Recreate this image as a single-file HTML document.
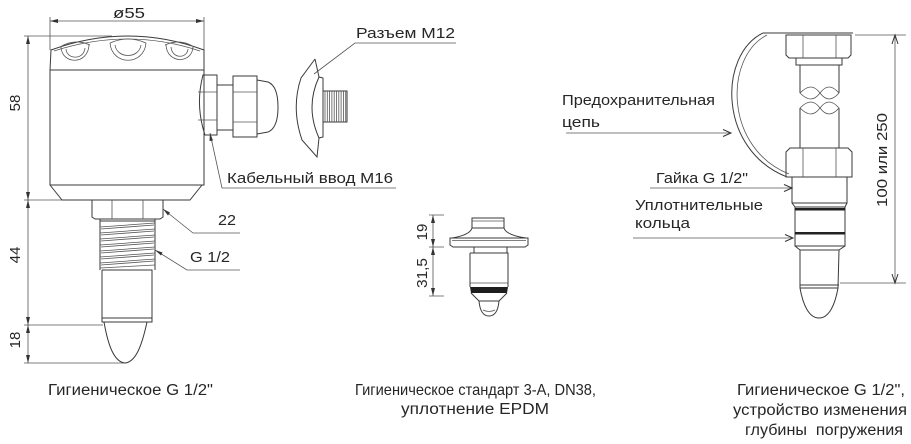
<!DOCTYPE html>
<html><head><meta charset="utf-8"><style>
html,body{margin:0;padding:0;background:#fff;}
svg{display:block;}
text{font-family:"Liberation Sans","DejaVu Sans",sans-serif;fill:#262626;}
.l{fill:none;stroke:#3a3a3a;stroke-width:1;}
.t{fill:none;stroke:#555;stroke-width:0.8;}
.a{fill:#333;stroke:none;}
.o{fill:none;stroke:#333;stroke-width:1;}
</style></head><body>
<svg width="911" height="444" viewBox="0 0 911 444" xmlns="http://www.w3.org/2000/svg">
<!-- ================= LEFT DRAWING ================= -->
<path class="t" d="M50,21 L204,21 M50,17 L50,50 M204,17 L204,50"/>
<path class="a" d="M50,21 L58,19 L58,23 Z M204,21 L196,19 L196,23 Z"/>
<text x="113" y="18" font-size="15" textLength="32" lengthAdjust="spacingAndGlyphs">ø55</text>
<path class="t" d="M28,36 L28,363 M24,36 L112,36 M24,200 L62,200 M24,325 L103,325 M24,363 L124,363"/>
<path class="a" d="M28,36 L26,44 L30,44 Z M28,200 L26,192 L30,192 Z M28,200 L26,208 L30,208 Z M28,325 L26,317 L30,317 Z M28,325 L26,333 L30,333 Z M28,363 L26,355 L30,355 Z"/>
<text transform="translate(20,103) rotate(-90)" font-size="15" text-anchor="middle">58</text>
<text transform="translate(20,255) rotate(-90)" font-size="15" text-anchor="middle">44</text>
<text transform="translate(20,340) rotate(-90)" font-size="15" text-anchor="middle">18</text>
<path class="l" d="M50,70 L51,50 Q128,22 204,50 L204,70"/>
<path class="t" d="M54,51 Q128,27 200,51"/>
<path class="l" d="M50,70 L204,70"/>
<path class="t" d="M61,47 C62,65 88,65 89,45 M66,49 C67,60 84,60 85,48 M60,47 Q75,38 90,45"/>
<path class="t" d="M110,43 C112,66 144,66 146,43 M115,45 C117,59 139,59 141,45 M110,43 Q128,35 146,43"/>
<path class="t" d="M166,45 C167,64 192,64 193,47 M171,47 C172,59 187,59 188,49 M165,45 Q180,38 194,47"/>
<path class="l" d="M50,70 L50,185 L204,185 L204,70"/>
<path class="l" d="M50,185 L62,200 L190,200 L202,185"/>
<path class="l" d="M92,200 L92,217 L95,219 L160,219 L163,217 L163,200"/>
<path class="t" d="M112,200 L112,219 M143,200 L143,219"/>
<path class="l" d="M100,219 L100,270 M155,219 L155,270 M100,221 L155,221"/>
<path class="t" d="M100,227 L155,223 M100,233 L155,229 M100,239 L155,235 M100,245 L155,241 M100,251 L155,247 M100,257 L155,253 M100,263 L155,259 M100,268 L155,265"/>
<path class="t" d="M101,229 L154,225 M101,235 L154,231 M101,241 L154,237 M101,247 L154,243 M101,253 L154,249 M101,259 L154,255 M101,265 L154,261"/>
<path class="l" d="M102,270 L102,322 L152,322 L152,270 L102,270 M102,318 L152,318"/>
<path class="l" d="M104,322 C108,345 114,362 125,363 C136,362 142,345 147,322"/>
<path class="l" d="M203,75 L217,75 L217,135 L205,135 Q195,105 203,75 Z"/>
<path class="t" d="M198,92 L217,92 M198,120 L217,120"/>
<path class="l" d="M217,85 L233,85 M217,130 L233,130"/>
<path class="l" d="M233,76 L257,76 L257,137 L233,137 Z"/>
<path class="t" d="M233,92 L257,92 M233,122 L257,122"/>
<path class="l" d="M257,80 L268,82 Q278,86 278,107 Q278,128 268,132 L257,134"/>
<path class="l" d="M315,59 L301,78 Q291,108 302,140 L317,157 L319,138 M315,59 L319,77"/>
<path class="l" d="M319,77 Q305,107 319,138 L323,137 L323,78 Z"/>
<path class="l" d="M323,91 L347,91 L347,122 L323,122"/>
<path class="t" d="M325,91 V122 M327.3,91 V122 M329.6,91 V122 M331.9,91 V122 M334.2,91 V122 M336.5,91 V122 M338.8,91 V122 M341.1,91 V122 M343.4,91 V122 M345.7,91 V122"/>
<path class="t" d="M314,74 L355,43 L456,43"/>
<text x="356" y="38" font-size="15" textLength="99" lengthAdjust="spacingAndGlyphs">Разъем М12</text>
<path class="t" d="M210,133 L222,188 L396,188"/>
<path class="a" d="M210,133 L209.5,141 L213,140.5 Z"/>
<text x="227" y="183" font-size="15" textLength="166" lengthAdjust="spacingAndGlyphs">Кабельный ввод М16</text>
<path class="t" d="M163,209 L193,233 L240,233"/>
<path class="a" d="M163,209 L168,215.5 L170,212.5 Z"/>
<text x="218" y="225" font-size="15" textLength="18" lengthAdjust="spacingAndGlyphs">22</text>
<path class="t" d="M155,250 L187,270 L240,270"/>
<path class="a" d="M155,250 L161,255.5 L162.5,252.5 Z"/>
<text x="190" y="262" font-size="15" textLength="40" lengthAdjust="spacingAndGlyphs">G 1/2</text>
<text x="48" y="395" font-size="15.5" textLength="165" lengthAdjust="spacingAndGlyphs">Гигиеническое G 1/2"</text>

<!-- ================= MIDDLE DRAWING ================= -->
<path class="t" d="M433,215 L433,296 M429,215 L444,215 M429,247 L444,247 M429,296 L444,296"/>
<path class="a" d="M433,215 L431,223 L435,223 Z M433,247 L431,239 L435,239 Z M433,247 L431,255 L435,255 Z M433,296 L431,288 L435,288 Z"/>
<text transform="translate(427,232) rotate(-90)" font-size="15" text-anchor="middle">19</text>
<text transform="translate(427,273) rotate(-90)" font-size="15" text-anchor="middle" textLength="30" lengthAdjust="spacingAndGlyphs">31,5</text>
<path class="l" d="M472,218 L504,218 L504,228 L472,228 Z"/>
<path class="t" d="M472,221 L504,221"/>
<path class="l" d="M472,228 Q470,235 452,238 M504,228 Q506,235 526,238"/>
<path class="l" d="M450,238 L528,238 L528,245 L525,247 L453,247 L450,245 Z"/>
<path class="t" d="M452,240.5 L526,240.5"/>
<path class="l" d="M474,247 L474,253 M507,247 L507,253"/>
<path class="l" d="M470,253 L508,253 L508,287 M470,253 L470,287"/>
<path class="t" d="M470,283 L508,283"/>
<path d="M470,287 L508,287 L507,293 L471,293 Z" fill="#1e1e1e"/>
<path class="l" d="M471,293 L479,301 L499,301 L507,293"/>
<path class="l" d="M479,301 C480,312 484,316 489,316 C494,316 498,312 499,301"/>
<path class="t" d="M483,310 Q489,313 495,310"/>
<text x="355" y="395" font-size="16" textLength="241" lengthAdjust="spacingAndGlyphs">Гигиеническое стандарт 3-А, DN38,</text>
<text x="401" y="414" font-size="15.5" textLength="148" lengthAdjust="spacingAndGlyphs">уплотнение EPDM</text>

<!-- ================= RIGHT DRAWING ================= -->
<path class="l" d="M763,33 C718,55 718,150 787,177"/>
<path class="t" d="M767,35 C724,57 724,148 789,174"/>
<path class="l" d="M763,33 L853,33"/>
<path class="l" d="M786,35 L851,35 L851,55 L848,58 L789,58 L786,55 Z"/>
<path class="t" d="M803,35 L803,58 M836,35 L836,58"/>
<path class="l" d="M796,58 L796,65 L842,65 L842,58"/>
<path class="l" d="M800,65 L800,93 M839,65 L839,93 M800,108 L800,148 M839,108 L839,148"/>
<path class="t" d="M800,93 C808,85 814,85 820,93 C826,101 832,101 839,93 M800,93 C808,101 814,101 820,93 C826,85 832,85 839,93"/>
<path class="t" d="M800,108 C808,100 814,100 820,108 C826,116 832,116 839,108 M800,108 C808,116 814,116 820,108 C826,100 832,100 839,108"/>
<path class="l" d="M786,152 L790,148 L848,148 L852,152 L852,177 L786,177 Z"/>
<path class="t" d="M803,148 L803,177 M836,148 L836,177"/>
<path class="l" d="M792,177 L792,203 L847,203 L847,177"/>
<path class="l" d="M792,203 L795,207 L845,207 L847,203"/>
<path class="l" d="M795,207 L795,246 L845,246 L845,207"/>
<rect x="795" y="208" width="50" height="2.5" fill="#222"/>
<rect x="795" y="232" width="50" height="2.5" fill="#222"/>
<path class="l" d="M795,246 L800,250 L839,250 L845,246"/>
<path class="l" d="M800,250 L800,288 L838,288 L839,250 M800,285 L839,285"/>
<path class="l" d="M800,288 C803,305 809,318 819,318 C829,318 835,305 838,288"/>
<path class="t" d="M895,35 L895,283 M855,35 L906,35 M840,283 L906,283"/>
<path class="o" d="M892,44 L895,35 L898,44 M892,274 L895,283 L898,274"/>
<text transform="translate(887,160) rotate(-90)" font-size="15" text-anchor="middle" textLength="94" lengthAdjust="spacingAndGlyphs">100 или 250</text>
<text x="562" y="105" font-size="15" textLength="153" lengthAdjust="spacingAndGlyphs">Предохранительная</text>
<text x="562" y="127" font-size="15" textLength="38" lengthAdjust="spacingAndGlyphs">цепь</text>
<path class="t" d="M566,133 L731,133"/>
<path class="o" d="M723,129.5 L731,133 L723,136.5"/>
<text x="656" y="183" font-size="15" textLength="92" lengthAdjust="spacingAndGlyphs">Гайка G 1/2"</text>
<path class="t" d="M650,188 L792,188"/>
<path class="o" d="M784,184.5 L792,188 L784,191.5"/>
<text x="635" y="210" font-size="15" textLength="128" lengthAdjust="spacingAndGlyphs">Уплотнительные</text>
<text x="635" y="228" font-size="15" textLength="55" lengthAdjust="spacingAndGlyphs">кольца</text>
<path class="t" d="M633,238 L793,238"/>
<path class="o" d="M785,234.5 L793,238 L785,241.5"/>
<text x="737" y="395" font-size="15.5" textLength="168" lengthAdjust="spacingAndGlyphs">Гигиеническое G 1/2",</text>
<text x="733" y="415" font-size="15.5" textLength="174" lengthAdjust="spacingAndGlyphs">устройство изменения</text>
<text x="745" y="435" font-size="15.5" textLength="158" lengthAdjust="spacingAndGlyphs">глубины&#160; погружения</text>
</svg>
</body></html>
